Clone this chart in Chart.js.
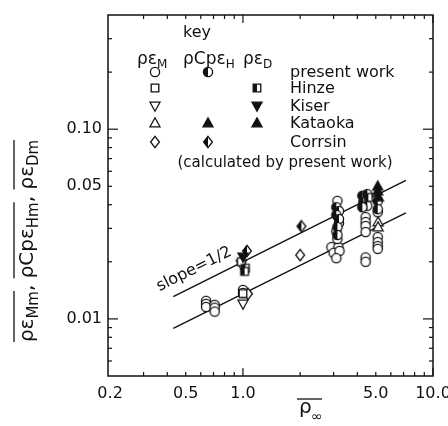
<!DOCTYPE html>
<html><head><meta charset="utf-8">
<script src="https://cdn.jsdelivr.net/npm/chart.js@4/dist/chart.umd.min.js"></script>
<style>html,body{margin:0;padding:0;background:#fff}#wrap{width:448px;height:426px}</style>
</head><body><div id="wrap"><canvas id="c" width="448" height="426"></canvas></div>
<script>
// ---- axis ticks ----
const xTickValues=[0.2,0.5,1,5,10];
const xTickLabels=['0.2','0.5','1.0','5.0','10.0'];
const xMinorTicks=[0.3,0.4,0.5,0.6,0.7,0.8,0.9,2,3,4,5,6,7,8,9];
const xMajorTicks=[1,10];
const yTickValues=[0.01,0.05,0.1];
const yTickLabels=['0.01','0.05','0.10'];
const yMinorTicks=[0.006,0.007,0.008,0.009,0.02,0.03,0.04,0.05,0.06,0.07,0.08,0.09,0.2,0.3];
const yMajorTicks=[0.01,0.1];

// ---- slope = 1/2 reference lines ----
const lineX=[0.43,7.2];
const upperLineY=[0.0131,0.0537];
const lowerLineY=[0.0089,0.0362];

// ---- present work ----
const pwMX=[0.64,0.64,0.64,0.71,0.71,0.71,1.0,1.0, 2.92,3.18,3.0,3.22,3.1, 3.14,3.2,3.1,3.14, 4.42,4.42,4.42,4.42, 4.42,4.42, 5.12,5.12,5.12,5.12, 5.12];
const pwMY=[0.01245,0.0120,0.01156,0.01186,0.01146,0.01093,0.01422,0.0137, 0.0239,0.0239,0.0223,0.0228,0.0209, 0.0419,0.0320,0.0290,0.0264, 0.0344,0.0324,0.0309,0.0287, 0.0211,0.0200, 0.0270,0.0254,0.0242,0.0234, 0.0365];
const pwHX=[3.1,3.2,3.1,3.2,3.14,3.14, 4.25,4.51,4.3,4.51,4.25, 5.12,5.12];
const pwHY=[0.0388,0.0370,0.0353,0.0336,0.0305,0.0277, 0.0446,0.0455,0.0413,0.0395,0.0388, 0.0418,0.0379];
// ---- Hinze ----
const hzMX=[0.98,1.0];
const hzMY=[0.0200,0.0136];
const hzDX=[1.03,1.02,4.57];
const hzDY=[0.0185,0.0178,0.0437];
// ---- Kiser ----
const ksMX=[0.98,1.0];
const ksMY=[0.0194,0.0120];
const ksDX=[1.0];
const ksDY=[0.0212];
// ---- Kataoka ----
const ktMX=[5.14,5.14];
const ktMY=[0.0324,0.0305];
const ktHX=[5.12,5.12];
const ktHY=[0.0501,0.0472];
const ktDX=[5.16];
const ktDY=[0.0439];
// ---- Corrsin ----
const crMX=[2.0,1.063];
const crMY=[0.0217,0.01355];
const crHX=[2.03,1.05];
const crHY=[0.0308,0.0228];

const FONT='"DejaVu Sans", "Liberation Sans", sans-serif';
const INK='#111';

function makeMarker(shape, mode){
  const S=14, c=7;
  const cv=document.createElement('canvas'); cv.width=S; cv.height=S;
  const g=cv.getContext('2d');
  const path=()=>{ g.beginPath();
    if(shape==='circle') g.arc(c,c,4.6,0,Math.PI*2);
    else if(shape==='square') g.rect(c-3.8,c-3.8,7.6,7.6);
    else if(shape==='up'){ g.moveTo(c,c-5.2); g.lineTo(c+5,c+3.8); g.lineTo(c-5,c+3.8); g.closePath(); }
    else if(shape==='down'){ g.moveTo(c,c+5.2); g.lineTo(c+5,c-3.8); g.lineTo(c-5,c-3.8); g.closePath(); }
    else if(shape==='diamond'){ g.moveTo(c,c-5.6); g.lineTo(c+4.4,c); g.lineTo(c,c+5.6); g.lineTo(c-4.4,c); g.closePath(); }
  };
  path(); g.fillStyle = mode==='filled' ? INK : '#fff'; g.fill();
  if(mode==='half'){ g.save(); path(); g.clip(); g.fillStyle=INK; g.fillRect(0,0,c,S); g.restore(); }
  path(); g.lineWidth=1.3; g.strokeStyle=INK; g.stroke();
  return cv;
}
const M={
  oCircle:makeMarker('circle','open'), hCircle:makeMarker('circle','half'),
  oSquare:makeMarker('square','open'), hSquare:makeMarker('square','half'),
  oDown:makeMarker('down','open'), fDown:makeMarker('down','filled'),
  oUp:makeMarker('up','open'), fUp:makeMarker('up','filled'),
  oDiam:makeMarker('diamond','open'), hDiam:makeMarker('diamond','half')
};

const pts=(xs,ys)=>xs.map((x,i)=>({x:x,y:ys[i]}));
const ptSet=(xs,ys,style)=>({type:'scatter',data:pts(xs,ys),pointStyle:style,pointRadius:5,pointHoverRadius:5});
const lineSet=(ys)=>({type:'line',data:pts(lineX,ys),borderColor:INK,borderWidth:1.4,pointRadius:0,showLine:true,fill:false});

function drawRich(ctx, groups, x, y, mainSize, subSize, overOffset){
  // groups: array of {parts:[[text,isSub]], over:bool}
  let cx=x;
  for(const grp of groups){
    const start=cx;
    for(const [t,sub] of grp.parts){
      ctx.font=(sub?subSize:mainSize)+'px '+FONT;
      ctx.fillText(t,cx,y+(sub?subSize*0.33:0));
      cx+=ctx.measureText(t).width;
    }
    if(grp.over){
      ctx.beginPath(); ctx.moveTo(start,y-overOffset); ctx.lineTo(cx,y-overOffset); ctx.lineWidth=1.3; ctx.stroke();
    }
  }
  return cx-x;
}
function richWidth(ctx, groups, mainSize, subSize){
  let w=0;
  for(const grp of groups) for(const [t,sub] of grp.parts){ ctx.font=(sub?subSize:mainSize)+'px '+FONT; w+=ctx.measureText(t).width; }
  return w;
}

const decor={
  id:'decor',
  afterDatasetsDraw(chart){
    const ctx=chart.ctx, a=chart.chartArea, xs=chart.scales.x, ys=chart.scales.y;
    ctx.save();
    ctx.strokeStyle=INK; ctx.fillStyle=INK;
    // box
    ctx.lineWidth=1.5;
    ctx.strokeRect(a.left,a.top,a.right-a.left,a.bottom-a.top);
    // ticks
    ctx.lineWidth=1.2;
    const tick=(x1,y1,x2,y2)=>{ctx.beginPath();ctx.moveTo(x1,y1);ctx.lineTo(x2,y2);ctx.stroke();};
    for(const v of yMinorTicks){const p=ys.getPixelForValue(v); tick(a.left,p,a.left+4,p); tick(a.right,p,a.right-4,p);}
    for(const v of yMajorTicks){const p=ys.getPixelForValue(v); tick(a.left,p,a.left+10,p); tick(a.right,p,a.right-10,p);}
    for(const v of xMinorTicks){const p=xs.getPixelForValue(v); tick(p,a.bottom,p,a.bottom-4); tick(p,a.top,p,a.top+4);}
    for(const v of xMajorTicks){const p=xs.getPixelForValue(v); tick(p,a.bottom,p,a.bottom-8); tick(p,a.top,p,a.top+8);}

    // legend
    ctx.textBaseline='alphabetic';
    ctx.textAlign='center';
    ctx.font='16px '+FONT;
    ctx.fillText('key',197,37);
    ctx.textAlign='left';
    drawRich(ctx,[{parts:[['ρε',0],['M',1]]}],137,64,17,12,0);
    drawRich(ctx,[{parts:[['ρCpε',0],['H',1]]}],183,64,17,12,0);
    drawRich(ctx,[{parts:[['ρε',0],['D',1]]}],243,64,17,12,0);
    const rows=[72,88,106,123,142];
    const cols=[155,208,257];
    const grid=[[M.oCircle,M.hCircle,null],[M.oSquare,null,M.hSquare],[M.oDown,null,M.fDown],[M.oUp,M.fUp,M.fUp],[M.oDiam,M.hDiam,null]];
    const names=['present work','Hinze','Kiser','Kataoka','Corrsin'];
    rows.forEach((ry,i)=>{
      grid[i].forEach((m,j)=>{ if(m) ctx.drawImage(m,cols[j]-7,ry-7); });
      ctx.font='16px '+FONT; ctx.fillText(names[i],290,ry+5);
    });
    ctx.textAlign='center';
    ctx.font='15px '+FONT;
    ctx.fillText('(calculated by present work)',285,167);

    // slope label
    ctx.save();
    ctx.translate(196,273); ctx.rotate(-26.5*Math.PI/180);
    ctx.font='16px '+FONT; ctx.textAlign='center';
    ctx.fillText('slope=1/2',0,0);
    ctx.restore();

    // x title
    ctx.textAlign='left';
    ctx.font='20px '+FONT; ctx.fillText('ρ',299,413);
    ctx.font='14px '+FONT; ctx.fillText('∞',311,421);
    ctx.lineWidth=1.3; tick(297,399,322,399);

    // y title
    const yGroups=[{parts:[['ρε',0],['Mm',1]],over:true},{parts:[[', ',0]]},{parts:[['ρCpε',0],['Hm',1]],over:true},{parts:[[', ',0]]},{parts:[['ρε',0],['Dm',1]],over:true}];
    const w=richWidth(ctx,yGroups,20,15);
    ctx.save();
    ctx.translate(33,241); ctx.rotate(-Math.PI/2);
    drawRich(ctx,yGroups,-w/2,0,20,15,19);
    ctx.restore();
    ctx.restore();
  }
};

new Chart(document.getElementById('c'),{
  type:'scatter',
  data:{datasets:[
    ptSet(ktHX,ktHY,M.fUp),
    ptSet(ktDX,ktDY,M.fUp),
    ptSet(ktMX,ktMY,M.oUp),
    ptSet(hzDX,hzDY,M.hSquare),
    ptSet(ksDX,ksDY,M.fDown),
    ptSet(crHX,crHY,M.hDiam),
    ptSet(hzMX,hzMY,M.oSquare),
    ptSet(ksMX,ksMY,M.oDown),
    ptSet(crMX,crMY,M.oDiam),
    ptSet(pwHX,pwHY,M.hCircle),
    ptSet(pwMX,pwMY,M.oCircle),
    lineSet(upperLineY),
    lineSet(lowerLineY)
  ]},
  options:{
    responsive:false, animation:false, devicePixelRatio:1,
    layout:{padding:{left:0,right:15,top:15,bottom:0}},
    plugins:{legend:{display:false},tooltip:{enabled:false}},
    scales:{
      x:{type:'logarithmic',min:0.195,max:10,
        afterBuildTicks:s=>{s.ticks=xTickValues.map(v=>({value:v}));},
        afterFit:s=>{s.height=50;s.paddingLeft=0;s.paddingRight=0;},
        ticks:{autoSkip:false,maxRotation:0,color:INK,padding:8,font:{family:FONT,size:16},
          callback:v=>{const i=xTickValues.indexOf(v);return i>=0?xTickLabels[i]:'';}},
        grid:{display:false,drawTicks:false},border:{display:false}},
      y:{type:'logarithmic',min:0.005,max:0.4,
        afterBuildTicks:s=>{s.ticks=yTickValues.map(v=>({value:v}));},
        afterFit:s=>{s.width=108;s.paddingTop=0;s.paddingBottom=0;},
        ticks:{autoSkip:false,color:INK,padding:6,font:{family:FONT,size:16},
          callback:v=>{const i=yTickValues.indexOf(v);return i>=0?yTickLabels[i]:'';}},
        grid:{display:false,drawTicks:false},border:{display:false}}
    }
  },
  plugins:[decor]
});
</script>
</body></html>
